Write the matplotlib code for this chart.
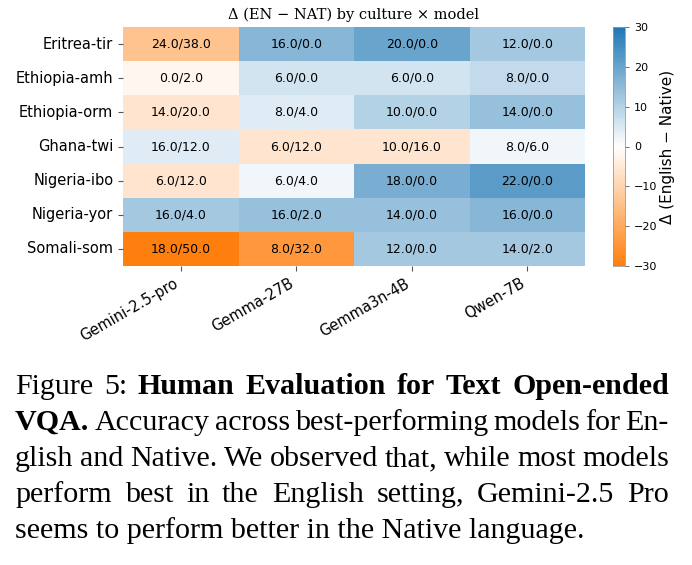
import numpy as np
import matplotlib
matplotlib.use("Agg")
import matplotlib.pyplot as plt
from matplotlib.colors import LinearSegmentedColormap
import seaborn as sns

# ---- data ----
cultures = ["Eritrea-tir", "Ethiopia-amh", "Ethiopia-orm", "Ghana-twi",
            "Nigeria-ibo", "Nigeria-yor", "Somali-som"]
models = ["Gemini-2.5-pro", "Gemma-27B", "Gemma3n-4B", "Qwen-7B"]
en_acc = [
    [24, 16, 20, 12],
    [0, 6, 6, 8],
    [14, 8, 10, 14],
    [16, 6, 10, 8],
    [6, 6, 18, 22],
    [16, 16, 14, 16],
    [18, 8, 12, 14],
]
nat_acc = [
    [38, 0, 0, 0],
    [2, 0, 0, 0],
    [20, 4, 0, 0],
    [12, 12, 16, 6],
    [12, 4, 0, 0],
    [4, 2, 0, 0],
    [50, 32, 0, 2],
]
cbar_ticks = [-30, -20, -10, 0, 10, 20, 30]

caption_lines = [
    [("Figure", "normal"), ("5:", "normal"), ("Human", "bold"), ("Evaluation", "bold"),
     ("for", "bold"), ("Text", "bold"), ("Open-ended", "bold")],
    [("VQA.", "bold"), ("Accuracy", "normal"), ("across", "normal"),
     ("best-performing", "normal"), ("models", "normal"), ("for", "normal"), ("En-", "normal")],
    [("glish", "normal"), ("and", "normal"), ("Native.", "normal"), ("We", "normal"),
     ("observed", "normal"), ("that,", "normal"), ("while", "normal"), ("most", "normal"),
     ("models", "normal")],
    [("perform", "normal"), ("best", "normal"), ("in", "normal"), ("the", "normal"),
     ("English", "normal"), ("setting,", "normal"), ("Gemini-2.5", "normal"), ("Pro", "normal")],
    [("seems to perform better in the Native language.", "normal")],
]

en = np.array(en_acc, dtype=float)
nat = np.array(nat_acc, dtype=float)
delta = en - nat
annot = np.array([[f"{e:.1f}/{n:.1f}" for e, n in zip(er, nr)] for er, nr in zip(en, nat)])

W, H = 692, 565
fig = plt.figure(figsize=(W / 100, H / 100), dpi=100)

def fx(px):
    return px / W

def fy(py):
    return 1 - py / H

ax = fig.add_axes([fx(123), fy(266), fx(585) - fx(123), fy(27) - fy(266)])
cax = fig.add_axes([fx(613), fy(266), fx(625) - fx(613), fy(27) - fy(266)])

cmap = LinearSegmentedColormap.from_list("ob", ["#ff7f0e", "#ffffff", "#1f77b4"])

sns.heatmap(delta, ax=ax, cbar_ax=cax, cmap=cmap, vmin=-30, vmax=30,
            annot=annot, fmt="", annot_kws={"fontsize": 9, "color": "black"},
            xticklabels=models, yticklabels=cultures,
            cbar_kws={"ticks": cbar_ticks})

ax.set_title("\u0394 (EN \u2212 NAT) by culture \u00d7 model", family="DejaVu Serif", fontsize=10.5)
ax.set_yticklabels(cultures, rotation=0, fontsize=10.5)
ax.set_xticklabels(models, rotation=30, ha="right", fontsize=10.5)
ax.tick_params(axis="both", length=3.5, width=0.8, color="#555555")

cb = ax.collections[0].colorbar
cb.ax.tick_params(labelsize=8, length=3, width=0.6, color="#555555")
cb.outline.set_visible(True)
cb.outline.set_linewidth(0.6)
cb.outline.set_edgecolor("#999999")
cb.set_label("\u0394 (English \u2212 Native)", fontsize=11, labelpad=2)

# ---- caption, justified ----
renderer = fig.canvas.get_renderer()
left, right = 15, 669
baselines = [394, 430, 466, 502, 538]
fs = 21.6
for i, (line, yb) in enumerate(zip(caption_lines, baselines)):
    texts = []
    for word, weight in line:
        t = fig.text(0, fy(yb), word, fontsize=fs,
                     family=["Liberation Serif", "DejaVu Serif"],
                     weight=weight, va="baseline", ha="left")
        texts.append(t)
    widths = [t.get_window_extent(renderer).width for t in texts]
    if len(texts) > 1:
        gap = (right - left - sum(widths)) / (len(texts) - 1)
    else:
        gap = 0
    x = left
    for t, w in zip(texts, widths):
        t.set_x(fx(x))
        x += w + gap

fig.savefig("out.png", dpi=100)
